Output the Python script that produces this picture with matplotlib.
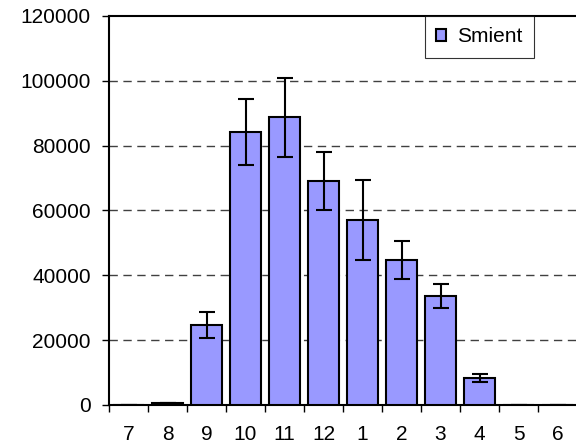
import matplotlib
matplotlib.use("Agg")
import matplotlib.pyplot as plt
import numpy as np

months = ["7", "8", "9", "10", "11", "12", "1", "2", "3", "4", "5", "6"]
smient = [150, 700, 24700, 84300, 88700, 69100, 57100, 44800, 33700, 8400, 100, 100]
errors = [0, 0, 3900, 10200, 12200, 8900, 12300, 5800, 3700, 1300, 0, 0]
yticks = [0, 20000, 40000, 60000, 80000, 100000, 120000]

plt.rcParams['font.family'] = ['Liberation Sans', 'DejaVu Sans']

fig = plt.figure(figsize=(5.76, 4.47), dpi=100)
ax = fig.add_axes([109/576, 42/447, 468/576, 389/447])

x = np.arange(len(months))
ax.bar(x, smient, width=0.8, color='#9999ff', edgecolor='black', linewidth=1.5,
       label='Smient', zorder=3)
ax.errorbar(x, smient, yerr=errors, fmt='none', ecolor='black', elinewidth=1.5,
            capsize=5.5, capthick=1.5, zorder=4)

ax.set_xlim(-0.5, len(months) - 0.5)
ax.set_ylim(0, 120000)
ax.set_yticks(yticks)
ax.set_yticklabels([str(v) for v in yticks])
for v in yticks[1:-1]:
    ax.axhline(v, color='#404040', linestyle=(0, (6, 4)), linewidth=1.0, zorder=1)

ax.set_xticks(np.arange(-0.5, len(months)), minor=False)
ax.set_xticklabels([])
ax.set_xticks(x, minor=True)
ax.set_xticklabels(months, minor=True)
ax.tick_params(axis='x', which='major', direction='out', length=5, width=1)
ax.tick_params(axis='x', which='minor', length=0, pad=14.5, labelsize=15)
ax.tick_params(axis='y', direction='out', length=5, width=1, labelsize=15, pad=8)

for s in ['left', 'bottom', 'top']:
    ax.spines[s].set_linewidth(1.5)
ax.spines['right'].set_visible(False)

leg = ax.legend(loc='upper left', bbox_to_anchor=((424.5-109)/468, 1.0), frameon=True,
                fancybox=False, edgecolor='black', fontsize=15, handlelength=0.5,
                handleheight=0.5, handletextpad=0.5, borderpad=0.55, borderaxespad=0)
leg.get_frame().set_linewidth(0.8)

fig.savefig("out.png", dpi=100)
